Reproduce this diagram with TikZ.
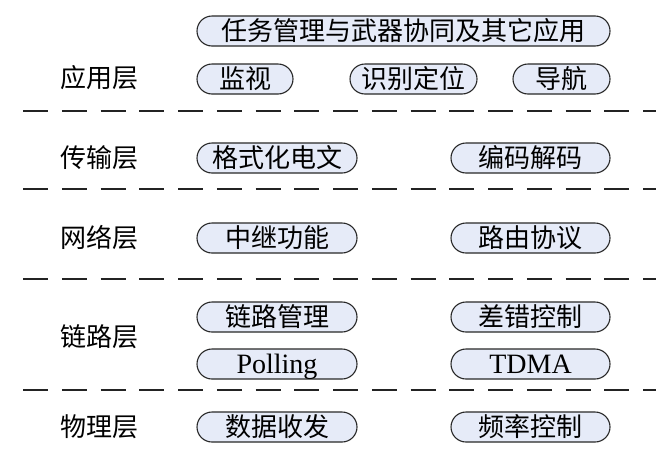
\documentclass[tikz,border=0pt]{standalone}
\usepackage{fontspec}
\setmainfont{Liberation Serif}
\newfontfamily\cjk{Noto Sans CJK SC}
\definecolor{boxfill}{RGB}{230,235,248}
\definecolor{boxline}{RGB}{40,40,40}
\definecolor{sepline}{RGB}{35,35,35}
\tikzset{
  pill/.style={draw=boxline, line width=1.1pt, fill=boxfill, rounded corners=15pt,
    minimum height=30pt, inner sep=0pt, font=\cjk\fontsize{26}{28}\selectfont},
  latinpill/.style={pill, font=\fontsize{28}{30}\selectfont, text height=20pt, text depth=2pt},
  layerlabel/.style={inner sep=0pt, font=\cjk\fontsize{26}{28}\selectfont},
  sep/.style={draw=sepline, line width=2pt, dash pattern=on 25pt off 13.75pt}
}
\begin{document}
\begin{tikzpicture}[x=1pt,y=-1pt]
\useasboundingbox (0,0) rectangle (664,453);
% separators
\foreach \yy/\nm in {111/s1,189/s2,279/s3,390/s4}{
  \coordinate (\nm a) at (23,\yy);
  \coordinate (\nm b) at (656,\yy);
  \draw[sep] (\nm a) -- (\nm b);
}
% layer labels
\node[layerlabel] (lapp) at (99,78) {应用层};
\node[layerlabel] (ltrans) at (99,158) {传输层};
\node[layerlabel] (lnet) at (99,238) {网络层};
\node[layerlabel] (llink) at (99,337) {链路层};
\node[layerlabel] (lphy) at (99,427) {物理层};
% application layer
\node[pill, minimum width=413pt] (task) at (403.5,31) {任务管理与武器协同及其它应用};
\node[pill, minimum width=96pt] (mon) at (245,79) {监视};
\node[pill, minimum width=127pt] (ident) at (413.5,79) {识别定位};
\node[pill, minimum width=97pt] (nav) at (561.5,79) {导航};
% transport
\node[pill, minimum width=160pt] (fmt) at (277,158) {格式化电文};
\node[pill, minimum width=159pt] (code) at (530.5,158) {编码解码};
% network
\node[pill, minimum width=160pt] (relay) at (277,238) {中继功能};
\node[pill, minimum width=159pt] (route) at (530.5,238) {路由协议};
% link
\node[pill, minimum width=160pt] (lmgmt) at (277,317) {链路管理};
\node[pill, minimum width=159pt] (err) at (530.5,317) {差错控制};
\node[latinpill, minimum width=160pt] (poll) at (277,364) {Polling};
\node[latinpill, minimum width=159pt] (tdma) at (530.5,364) {TDMA};
% physical
\node[pill, minimum width=160pt] (data) at (277,427) {数据收发};
\node[pill, minimum width=159pt] (freq) at (530.5,427) {频率控制};
\end{tikzpicture}
\end{document}
